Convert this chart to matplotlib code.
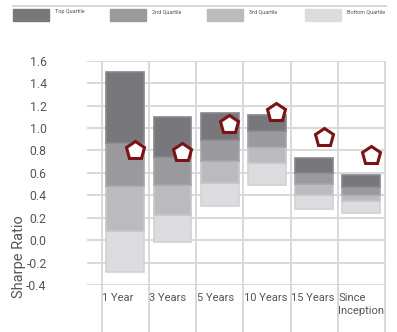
import matplotlib
matplotlib.use("Agg")
import matplotlib.pyplot as plt
from matplotlib import font_manager
from matplotlib.patches import Rectangle
from matplotlib.lines import Line2D

# fonte estreita se existir, senao Roboto com tamanhos menores
nomes = set(f.name for f in font_manager.fontManager.ttflist)
if 'Liberation Sans Narrow' in nomes:
    plt.rcParams['font.family'] = ['Liberation Sans Narrow', 'DejaVu Sans']
    tam_tick, tam_x, tam_label = 10, 9.5, 13.5
else:
    plt.rcParams['font.family'] = ['Roboto', 'DejaVu Sans']
    tam_tick, tam_x, tam_label = 8.8, 8, 10.5

periodos = ['1 Year', '3 Years', '5 Years', '10 Years', '15 Years', 'Since\nInception']
# limites dos quartis: base, 3o/base, 2o/3o, topo/2o, topo
base = [-0.28, -0.02, 0.30, 0.49, 0.28, 0.245]
q4_q3 = [0.08, 0.22, 0.51, 0.69, 0.40, 0.35]
q3_q2 = [0.48, 0.49, 0.705, 0.83, 0.505, 0.40]
q2_q1 = [0.87, 0.745, 0.89, 0.975, 0.60, 0.475]
topo = [1.50, 1.10, 1.13, 1.12, 0.73, 0.58]
fundo = [0.80, 0.79, 1.04, 1.14, 0.92, 0.76]

legenda = ['Top Quartile', '2nd Quartile', '3rd Quartile', 'Bottom Quartile']
cores = ['#78787c', '#9a9a9e', '#bbbbbf', '#dcdcde']
bordas = ['#88888c', '#a6a6aa', '#c6c6ca', '#d2d2d4']

fig = plt.figure(figsize=(3.97, 3.32), dpi=100)
ax = fig.add_axes([87/397, 47/332, 298/397, 224.3/332])

x = list(range(len(periodos)))
largura = 0.8
camadas = [(base, q4_q3, 3), (q4_q3, q3_q2, 2), (q3_q2, q2_q1, 1), (q2_q1, topo, 0)]
for baixo, cima, k in camadas:
    alturas = [c - b for b, c in zip(baixo, cima)]
    ax.bar(x, alturas, bottom=baixo, width=largura, color=cores[k],
           edgecolor=bordas[k], linewidth=1.2, zorder=3)

ax.plot([i + 0.2 for i in x], fundo, linestyle='none', marker='p', ms=13.5,
        mfc='white', mec='#7d1214', mew=2.2, zorder=5)

ax.set_xlim(-0.81, 5.5)
ax.set_ylim(-0.4, 1.6)
ax.set_yticks([-0.4 + 0.2 * i for i in range(11)])
ax.set_yticklabels(['%.1f' % (-0.4 + 0.2 * i) for i in range(11)])
ax.tick_params(axis='y', length=0, pad=29, labelsize=tam_tick, labelcolor='#555555')
ax.set_xticks([])
ax.yaxis.grid(True, color='#d9d9d9', linewidth=1.4, zorder=0)
for s in ax.spines.values():
    s.set_visible(False)

# linhas verticais entre os periodos, descendo ate o fim da figura
for i in range(len(periodos) + 1):
    ax.plot([i - 0.5, i - 0.5], [-0.83, 1.59], color='#d9d9d9', lw=1.4,
            clip_on=False, zorder=1)

for i, p in enumerate(periodos):
    ax.text(i - 0.49, -0.47, p, ha='left', va='top', fontsize=tam_x,
            color='#555555', linespacing=1.35)

fig.text(19/397, 75/332, 'Sharpe Ratio', rotation=90, ha='center', va='center',
         fontsize=tam_label, color='#555555')

# legenda no topo
fig.add_artist(Line2D([13/397, 386/397], [1 - 6/332, 1 - 6/332],
                      color='#d9d9d9', lw=1.5))
xs = [13, 110, 207, 305]
for xi, nome, cor in zip(xs, legenda, cores):
    fig.add_artist(Rectangle((xi/397, 1 - 21/332), 36/397, 12/332,
                             color=cor, transform=fig.transFigure))
    fig.text((xi + 42)/397, 1 - 12/332, nome, fontsize=4, color='#555555',
             ha='left', va='center')

fig.savefig('out.png', dpi=100)
